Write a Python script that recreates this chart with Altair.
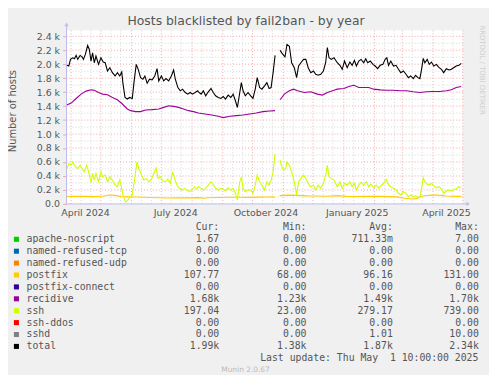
import altair as alt
import pandas as pd

# ---------------- data ----------------
START = pd.Timestamp("2024-03-27 10:00")
END = pd.Timestamp("2025-05-01 10:00")
GAP_AFTER_DAY = 212  # no data between ~day 211 and ~day 215

# days since START, values (hosts)
total_days = [0.3, 2.3, 4, 6.3, 8, 9.7, 11.3, 13.7, 15.7, 17, 19, 21.3, 23, 24.7, 26.3, 28, 29.7, 32.3, 34.7, 37, 39,
              41.3, 43.7, 46.3, 49, 51.3, 53.7, 55.7, 57, 59, 61.3, 63.7, 66.3, 68, 70.3, 72.3, 74.7, 77, 79, 81.3,
              83.7, 86.3, 89, 91.3, 93, 95.7, 98, 100.3, 103, 105.7, 108, 109.7, 112.3, 114.7, 117, 119.7, 122.3,
              124.7, 127, 129.7, 132.3, 133, 135.7, 138, 140.3, 143, 145.7, 148, 150.3, 153, 155.7, 158, 160.3, 163,
              165.7, 168, 170.3, 172.3, 174.7, 176.3, 178, 180.3, 183, 185.7, 188, 190.3, 192.3, 194.7, 197, 199.7,
              202, 204.3, 206.3, 208.3, 210.3,
              215.3, 217, 219, 220.3, 222.3, 224.7, 227, 229.7, 232, 234, 236.3, 239, 241.3, 243.7, 246.3, 249,
              251.3, 253.7, 256.3, 259, 261.3, 263, 264.7, 267, 269.7, 273, 275.7, 278, 280.3, 283, 285.7, 288,
              290.3, 292.3, 294.7, 297, 299.7, 301.7, 303.7, 306.3, 309, 311.3, 313.7, 316.3, 319, 321.3, 323,
              324.7, 327, 329.7, 332.3, 334.7, 337, 339.7, 342.3, 344.7, 347, 349.7, 352, 354.3, 356.3, 358, 359.7,
              361.3, 363.7, 365.7, 368, 370.3, 373, 375.7, 378, 380.3, 383, 385.7, 388, 390.3, 393, 395.7, 398]
total_vals = [1984, 1974, 2069, 2092, 2078, 2126, 2069, 2126, 2106, 2069, 2140, 2268, 2211, 2045, 2163, 2021, 2116,
              1998, 2092, 2031, 2021, 1903, 1950, 1879, 1832, 1879, 1832, 1889, 1714, 1524, 1501, 1524, 1510, 1737,
              1998, 1927, 1808, 1785, 1832, 1728, 1785, 1775, 1832, 1936, 1761, 1832, 1761, 1794, 1761, 1832, 1917,
              1785, 1666, 1619, 1643, 1595, 1572, 1595, 1572, 1595, 1619, 1605, 1572, 1619, 1548, 1605, 1652, 1595,
              1548, 1524, 1510, 1538, 1501, 1558, 1524, 1572, 1477, 1380, 1595, 1737, 1619, 1548, 1595, 1548, 1510,
              1643, 1808, 1666, 1643, 1690, 1737, 1652, 1666, 1879, 2126,
              2201, 2163, 2126, 2106, 2282, 2258, 2021, 1950, 1808, 1974, 2021, 2069, 2069, 1950, 1879, 1903, 1856,
              1842, 1856, 1903, 2021, 2237, 2092, 2069, 2092, 2021, 1984, 1927, 2045, 1950, 2031, 1984, 2055, 1974,
              2045, 2069, 2021, 2078, 2021, 2045, 1998, 1974, 1936, 1984, 1998, 2069, 2092, 1984, 2045, 1974, 1984,
              1927, 1879, 1903, 1856, 1808, 1832, 1794, 1842, 1808, 1794, 1927, 2083, 2021, 2069, 1998, 2031, 1974,
              1998, 1950, 1927, 1879, 1936, 1917, 1927, 1950, 1974, 1984, 2012]

recidive_days = [0.3, 4.7, 9.7, 14.7, 19.7, 24.7, 28, 32.3, 36.3, 41.3, 46.3, 51.3, 56.3, 61.3, 64.7, 69.7, 74.7,
                 79.7, 86.3, 93, 98, 103, 108, 113, 118, 123, 128, 133, 139.7, 146.3, 153, 158, 164.7, 171.3, 178,
                 184.7, 191.3, 198, 204.7, 210.3,
                 215.3, 219.7, 224.7, 229, 233, 239.7, 246.3, 253, 258, 263, 269.7, 273, 279.7, 284.7, 289.7, 294.7,
                 299.7, 304.7, 309.7, 316.3, 323, 329.7, 336.3, 343, 349.7, 356.3, 363, 369.7, 376.3, 383, 388, 393,
                 398]
recidive_vals = [1416, 1444, 1509, 1572, 1615, 1633, 1628, 1595, 1572, 1562, 1524, 1491, 1430, 1359, 1335, 1321,
                 1321, 1345, 1350, 1359, 1382, 1406, 1396, 1382, 1359, 1335, 1321, 1302, 1288, 1274, 1254, 1235,
                 1254, 1264, 1274, 1288, 1302, 1321, 1330, 1335,
                 1491, 1572, 1619, 1643, 1619, 1595, 1605, 1572, 1558, 1595, 1628, 1643, 1652, 1680, 1698, 1666,
                 1666, 1666, 1643, 1633, 1628, 1628, 1619, 1619, 1605, 1595, 1605, 1609, 1609, 1619, 1633, 1666,
                 1680]

ssh_days = [0.3, 2.3, 4.7, 6.3, 9, 11.3, 13.7, 15.7, 18, 20.3, 22.3, 24.7, 26.3, 28, 29.7, 32.3, 34.7, 36.3, 39,
            41.3, 43.7, 46.3, 49, 51.3, 53.7, 55.7, 57.3, 59.7, 62, 64, 66.3, 69, 71, 73, 75.7, 78, 80.3, 83, 85.7,
            88, 90.3, 92.3, 94.7, 97, 99.7, 102, 104.7, 107, 109, 111.3, 113.7, 116.3, 119, 121.3, 123.7, 126.3,
            129, 131.3, 133, 135.7, 138, 140.3, 143, 145.7, 148, 150.3, 153, 155.7, 158, 160.3, 163, 165.7, 168,
            170.3, 172.3, 174.7, 176.3, 178, 180.3, 183, 185.7, 188, 190.3, 192.3, 194.7, 197, 199.7, 202, 204.3,
            206.3, 208.3, 210.3,
            215.3, 217, 219, 221, 222.3, 224.7, 227, 229.7, 232, 234, 236.3, 239, 241.3, 243.7, 246.3, 249, 251.3,
            253.7, 256.3, 259, 261.3, 263, 264.7, 267, 269.7, 273, 275.7, 278, 280.3, 283, 285.7, 288, 290.3,
            292.3, 294.7, 297, 299.7, 302.3, 304.7, 307, 309.7, 312.3, 314.7, 317, 319.7, 322.3, 324.7, 327,
            329.7, 332.3, 334.7, 337, 339.7, 342.3, 344.7, 347, 349.7, 352, 354.3, 356.3, 358, 359.7, 361.3,
            363.7, 365.7, 368, 370.3, 373, 375.7, 378, 380.3, 383, 385.7, 388, 390.3, 393, 395.7, 398]
ssh_vals = [497, 578, 554, 601, 530, 507, 554, 507, 459, 554, 459, 308, 436, 341, 436, 317, 459, 388, 412, 317, 388,
            341, 270, 246, 341, 223, 104, 25, 57, 104, 128, 388, 601, 507, 412, 341, 365, 317, 355, 436, 515, 365,
            388, 327, 317, 355, 294, 459, 365, 270, 223, 199, 223, 199, 175, 199, 246, 213, 246, 223, 199, 223, 270,
            317, 280, 223, 199, 223, 209, 189, 231, 199, 223, 152, 57, 317, 388, 223, 175, 199, 199, 152, 270, 412,
            317, 270, 199, 317, 270, 341, 459, 720,
            625, 530, 483, 507, 601, 554, 459, 317, 128, 317, 365, 412, 365, 294, 246, 270, 199, 270, 223, 294, 412,
            554, 388, 365, 341, 246, 317, 223, 294, 270, 317, 246, 294, 199, 270, 308, 270, 317, 246, 280, 231, 270,
            223, 260, 294, 355, 270, 246, 223, 199, 152, 128, 175, 152, 104, 128, 104, 118, 89, 104, 223, 374, 317,
            280, 270, 294, 260, 231, 246, 213, 152, 185, 199, 185, 199, 213, 246, 231]

postfix_days = [0, 8, 18, 28, 38, 43, 49, 55, 63, 73, 83, 93, 103, 113, 123, 133, 138, 143, 153, 163, 173, 183,
                193, 203, 210,
                215, 223, 233, 243, 253, 263, 273, 283, 293, 303, 313, 323, 333, 341, 348, 353, 358, 363, 368, 373,
                378, 383, 388, 393, 398]
postfix_vals = [105, 110, 108, 104, 112, 128, 122, 105, 100, 98, 92, 88, 85, 88, 86, 90, 80, 88, 92, 95, 96, 94, 97,
                98, 100,
                118, 125, 122, 115, 112, 110, 118, 108, 105, 108, 110, 104, 100, 80, 70, 75, 110, 120, 125, 128, 122,
                112, 110, 108, 108]

# legend table
leg_names = ["apache-noscript", "named-refused-tcp", "named-refused-udp", "postfix", "postfix-connect",
             "recidive", "ssh", "ssh-ddos", "sshd", "total"]
leg_colors = ["#00CC00", "#0066B3", "#FF8000", "#FFCC00", "#330099", "#990099", "#CCFF00", "#FF0000",
              "#808080", "#000000"]
leg_cur = ["1.67", "0.00", "0.00", "107.77", "0.00", "1.68k", "197.04", "0.00", "0.00", "1.99k"]
leg_min = ["0.00", "0.00", "0.00", "68.00", "0.00", "1.23k", "23.00", "0.00", "0.00", "1.38k"]
leg_avg = ["711.33m", "0.00", "0.00", "96.16", "0.00", "1.49k", "279.17", "0.00", "1.01", "1.87k"]
leg_max = ["7.00", "0.00", "0.00", "131.00", "0.00", "1.70k", "739.00", "0.00", "10.00", "2.34k"]

y_ticks = [0, 200, 400, 600, 800, 1000, 1200, 1400, 1600, 1800, 2000, 2200, 2400]
x_label_dates = [(2024, 4, 15), (2024, 7, 15), (2024, 10, 14), (2025, 1, 14), (2025, 4, 14)]

TITLE = "Hosts blacklisted by fail2ban - by year"
YTITLE = "Number of hosts"
LAST_UPDATE = "Last update: Thu May  1 10:00:00 2025"
MUNIN = "Munin 2.0.67"
RRD = "RRDTOOL / TOBI OETIKER"

# ---------------- layout constants ----------------
W, H = 400, 175
YMAX = 2485
NB = "\u00a0"
GREY_TXT = "#555555"
MAJOR = "#F0A8A8"
MINOR = "#D6D6D6"
AXIS_C = "#BBBBEE"
SANS = "DejaVu Sans"
MONO = "DejaVu Sans Mono"


def iso(ts):
    return ts.strftime("%Y-%m-%dT%H:%M:%S")


def dt(ts):
    return alt.DateTime(year=ts.year, month=ts.month, date=ts.day, hours=ts.hour, minutes=ts.minute)


def frame(name, days, vals):
    d = pd.DataFrame({"day": days, "value": vals})
    d["date"] = [iso(START + pd.Timedelta(days=float(x))) for x in d["day"]]
    d["seg"] = (d["day"] > GAP_AFTER_DAY).astype(int)
    d["series"] = name
    return d


x_axis = alt.Axis(values=[alt.DateTime(year=a, month=b, date=c) for a, b, c in x_label_dates],
                  format="%B %Y", formatType="time", labelFont=SANS, labelFontSize=9.5,
                  labelColor=GREY_TXT, ticks=False, domain=False, grid=False, labelPadding=4,
                  title=None, labelOverlap=False)
y_axis = alt.Axis(values=y_ticks, labelExpr="datum.value == 0 ? '0.0' : format(datum.value / 1000, '.1f') + ' k'",
                  labelFont=SANS, labelFontSize=9.5, labelColor=GREY_TXT, tickColor=MAJOR, tickSize=4,
                  domain=False, grid=False, labelPadding=3, title=None)
x_scale = alt.Scale(domain=[dt(START), dt(END)])
y_scale = alt.Scale(domain=[0, YMAX], nice=False, zero=True)


def X(field):
    return alt.X(field, type="temporal", scale=x_scale, axis=x_axis)


def Y(field):
    return alt.Y(field, type="quantitative", scale=y_scale, axis=y_axis)


# grids
h_vals = list(range(100, 2500, 100))
grid_h = pd.DataFrame({"v": h_vals, "major": [v % 200 == 0 for v in h_vals]})
months = pd.date_range("2024-04-01", "2025-05-01", freq="MS")
minor_days = [m + pd.Timedelta(days=k) for m in months[:-1] for k in (10, 20)]
grid_v = pd.DataFrame({"d": [iso(m) for m in months] + [iso(m) for m in minor_days],
                       "major": [True] * len(months) + [False] * len(minor_days)})

layers = []
layers.append(alt.Chart(grid_h[~grid_h.major]).mark_rule(color=MINOR, strokeDash=[1, 2], strokeWidth=1)
              .encode(y=Y("v")))
layers.append(alt.Chart(grid_v[~grid_v.major]).mark_rule(color=MINOR, strokeDash=[1, 2], strokeWidth=1)
              .encode(x=X("d")))
layers.append(alt.Chart(grid_h[grid_h.major]).mark_rule(color=MAJOR, strokeDash=[1, 2], strokeWidth=1)
              .encode(y=Y("v")))
layers.append(alt.Chart(grid_v[grid_v.major]).mark_rule(color=MAJOR, strokeDash=[1, 2], strokeWidth=1)
              .encode(x=X("d")))

dummy = pd.DataFrame({"a": [0]})
# axis lines with arrows
layers.append(alt.Chart(dummy).mark_rule(color=AXIS_C, strokeWidth=1)
              .encode(x=alt.value(0), y=alt.value(-6), y2=alt.value(H)))
layers.append(alt.Chart(dummy).mark_rule(color=AXIS_C, strokeWidth=1)
              .encode(x=alt.value(0), x2=alt.value(W + 4), y=alt.value(H)))
layers.append(alt.Chart(dummy).mark_point(shape="triangle-up", filled=True, color=AXIS_C, size=18, opacity=1)
              .encode(x=alt.value(0), y=alt.value(-6)))
layers.append(alt.Chart(dummy).mark_point(shape="triangle-right", filled=True, color=AXIS_C, size=18, opacity=1)
              .encode(x=alt.value(W + 5), y=alt.value(H)))

# series lines (draw order as rrdtool: legend order, total last)
for name, days, vals, col in [("postfix", postfix_days, postfix_vals, "#FFCC00"),
                              ("recidive", recidive_days, recidive_vals, "#990099"),
                              ("ssh", ssh_days, ssh_vals, "#CCFF00"),
                              ("total", total_days, total_vals, "#000000")]:
    layers.append(alt.Chart(frame(name, days, vals)).mark_line(color=col, strokeWidth=1.1, clip=True)
                  .encode(x=X("date"), y=Y("value"), detail="seg:N"))

# texts outside plot
def txt(s, x, y, **kw):
    return alt.Chart(dummy).mark_text(text=s, **kw).encode(x=alt.value(x), y=alt.value(y))


layers.append(txt(TITLE, 181, -5, font=SANS, fontSize=12.5, color=GREY_TXT, align="center",
                  baseline="alphabetic"))
layers.append(txt(YTITLE, -53.5, 81.5, font=SANS, fontSize=10, color=GREY_TXT, align="center",
                  baseline="middle", angle=270))
layers.append(txt(RRD, 419, -5, font=SANS, fontSize=7, color="#CCCCCC", align="left",
                  baseline="middle", angle=90))
layers.append(txt(MUNIN, 180.5, 342.7, font=SANS, fontSize=7.5, color="#BBBBBB", align="center",
                  baseline="middle"))
layers.append(txt(LAST_UPDATE.replace(" ", NB), 415.3, 330.7, font=MONO, fontSize=9.9, color=GREY_TXT,
                  align="right", baseline="middle"))


def pad(s):
    return s if s[-1].isalpha() else s + NB


leg = pd.DataFrame({"name": leg_names, "col": leg_colors,
                    "cur": [pad(s) for s in leg_cur], "min": [pad(s) for s in leg_min],
                    "avg": [pad(s) for s in leg_avg], "max": [pad(s) for s in leg_max],
                    "row": list(range(len(leg_names)))})
ROW0, ROWH = 210.7, 12
ry = alt.Y("ry:Q", scale=None)
legbase = alt.Chart(leg).transform_calculate(ry=f"{ROW0} + {ROWH} * datum.row")
layers.append(legbase.mark_square(size=26, opacity=1, filled=True)
              .encode(x=alt.value(-50.5), y=ry, color=alt.Color("col:N", scale=None)))
layers.append(legbase.mark_text(font=MONO, fontSize=9.9, color=GREY_TXT, align="left", baseline="middle")
              .encode(x=alt.value(-40.3), y=ry, text="name:N"))
col_right = {"cur": 154, "min": 242, "avg": 329, "max": 415.7}
headers = {"cur": "Cur:", "min": "Min:", "avg": "Avg:", "max": "Max:"}
for key, xr in col_right.items():
    layers.append(legbase.mark_text(font=MONO, fontSize=9.9, color=GREY_TXT, align="right", baseline="middle")
                  .encode(x=alt.value(xr), y=ry, text=f"{key}:N"))
    layers.append(txt(headers[key] + NB + NB, xr, ROW0 - ROWH, font=MONO, fontSize=9.9, color=GREY_TXT,
                      align="right", baseline="middle"))

chart = alt.layer(*layers).properties(
    width=W, height=H,
    autosize=alt.AutoSizeParams(type="none"),
    padding={"left": 59, "top": 21, "right": 26, "bottom": 171},
    background="#F0F0F0",
).configure_view(fill="white", stroke=None)

chart.save("out.html", embed_options={"renderer": "svg", "actions": False})
